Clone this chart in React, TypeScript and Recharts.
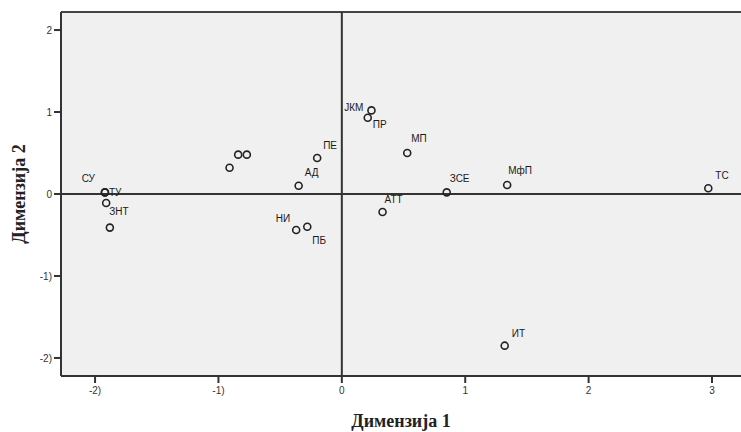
import {
  CartesianGrid,
  Label,
  ReferenceLine,
  Scatter,
  ScatterChart,
  XAxis,
  YAxis,
} from 'recharts'

// MDS-style perceptual map: two dimensions, labelled objects.

const names = [
  'СУ', 'ТУ', 'ЗНТ', '', '', '', '', 'АД', 'ПЕ', 'НИ',
  'ПБ', 'ЈКМ', 'ПР', 'МП', 'АТТ', 'ЗСЕ', 'МфП', 'ТС', 'ИТ',
]
const dim1 = [
  -1.92, -1.92, -1.91, -1.88, -0.91, -0.84, -0.77, -0.35, -0.2, -0.37,
  -0.28, 0.24, 0.21, 0.53, 0.33, 0.85, 1.34, 2.97, 1.32,
]
const dim2 = [
  0.02, 0.02, -0.11, -0.41, 0.32, 0.48, 0.48, 0.1, 0.44, -0.44,
  -0.4, 1.02, 0.93, 0.5, -0.22, 0.02, 0.11, 0.07, -1.85,
]

const xTicks = [-2, -1, 0, 1, 2, 3]
const xTickText = ['-2)', '-1)', '0', '1', '2', '3']
const yTicks = [-2, -1, 0, 1, 2]
const yTickText = ['-2)', '-1)', '0', '1', '2']

const X_DOMAIN: [number, number] = [-2.276, 3.235]
const Y_DOMAIN: [number, number] = [-2.22, 2.22]

// where each label sits relative to its point: dx, dy (baseline), anchor
const labelPlace: Record<string, [number, number, 'start' | 'end']> = {
  'СУ': [-10, -10, 'end'],
  'ТУ': [4, 4, 'start'],
  'ЗНТ': [3, 12, 'start'],
  'АД': [6, -10, 'start'],
  'ПЕ': [6, -9, 'start'],
  'НИ': [-6, -8, 'end'],
  'ПБ': [5, 17, 'start'],
  'ЈКМ': [-8, 1, 'end'],
  'ПР': [5, 10, 'start'],
  'МП': [4, -11, 'start'],
  'АТТ': [2, -9, 'start'],
  'ЗСЕ': [3, -10, 'start'],
  'МфП': [1, -11, 'start'],
  'ТС': [7, -9, 'start'],
  'ИТ': [7, -9, 'start'],
}

const points = names.map((name, i) => ({ name, x: dim1[i], y: dim2[i] }))

const INK = '#333'
const SANS = 'Arial, "Liberation Sans", sans-serif'
const SERIF = '"Liberation Serif", "Times New Roman", serif'
const tickStyle = { fontSize: 10, fill: '#333', fontFamily: SANS }

const PointShape = (props: any) => {
  const { cx, cy, payload } = props
  const place = labelPlace[payload.name]
  return (
    <g>
      <circle cx={cx} cy={cy} r={3.5} fill="none" stroke="#222" strokeWidth={1.6} />
      {place && (
        <text
          x={cx + place[0]}
          y={cy + place[1]}
          textAnchor={place[2]}
          fontSize={10}
          fill="#1a1a1a"
          fontFamily={SANS}
        >
          {payload.name}
        </text>
      )}
    </g>
  )
}

const YTitle = (props: any) => {
  const { viewBox } = props
  const cx = 19
  const cy = viewBox.y + viewBox.height / 2
  return (
    <text
      x={cx}
      y={cy}
      transform={`rotate(-90, ${cx}, ${cy})`}
      textAnchor="middle"
      dominantBaseline="central"
      fontSize={18}
      fontWeight="bold"
      fill="#222"
      fontFamily={SERIF}
    >
      Димензија 2
    </text>
  )
}

export default function App() {
  return (
    <div style={{ position: 'absolute', left: 0, top: 0, width: 741, height: 432, background: '#fff' }}>
      <ScatterChart width={741} height={432} margin={{ top: 12, right: 0, bottom: 0, left: 0 }}>
        <CartesianGrid horizontal={false} vertical={false} fill="#f0f0f0" />
        <XAxis
          type="number"
          dataKey="x"
          domain={X_DOMAIN}
          ticks={xTicks}
          allowDataOverflow
          height={56}
          stroke={INK}
          strokeWidth={2}
          tickSize={7}
          tickMargin={4}
          tick={tickStyle}
          tickLine={{ stroke: INK, strokeWidth: 2 }}
          tickFormatter={(v: number) => xTickText[xTicks.indexOf(v)] ?? String(v)}
        >
          <Label
            value="Димензија 1"
            position="insideBottom"
            offset={5}
            style={{ fontSize: 18, fontWeight: 'bold', fill: '#222', fontFamily: SERIF }}
          />
        </XAxis>
        <YAxis
          type="number"
          dataKey="y"
          domain={Y_DOMAIN}
          ticks={yTicks}
          allowDataOverflow
          width={61}
          stroke={INK}
          strokeWidth={2}
          tickSize={7}
          tickMargin={2}
          tick={tickStyle}
          tickLine={{ stroke: INK, strokeWidth: 2 }}
          tickFormatter={(v: number) => yTickText[yTicks.indexOf(v)] ?? String(v)}
          label={<YTitle />}
        />
        <ReferenceLine y={Y_DOMAIN[1]} stroke="#444" strokeWidth={2} />
        <ReferenceLine x={0} stroke={INK} strokeWidth={2} />
        <ReferenceLine y={0} stroke={INK} strokeWidth={2} />
        <Scatter data={points} shape={PointShape} isAnimationActive={false} />
      </ScatterChart>
    </div>
  )
}
